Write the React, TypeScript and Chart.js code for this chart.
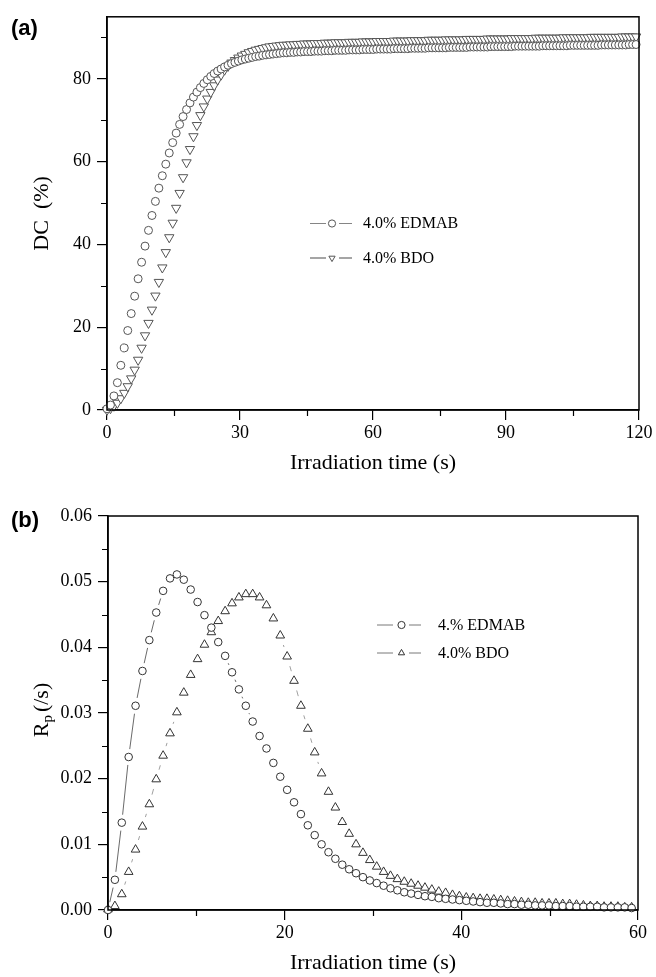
import React, { useEffect, useRef } from "react";
import { Chart, registerables } from "chart.js";

Chart.register(...registerables);

// ---------- data ----------
const TIME_STEP_S = 0.78;

// (a) degree of conversion DC (%)
const DC_EDMAB = [
  0.3, 1.2, 3.4, 6.6, 10.8, 15.0, 19.2, 23.3, 27.5, 31.7,
  35.7, 39.6, 43.4, 47.0, 50.4, 53.6, 56.6, 59.4, 62.1, 64.6,
  66.9, 69.0, 70.9, 72.6, 74.2, 75.6, 76.8, 77.9, 78.9, 79.8,
  80.6, 81.3, 81.9, 82.4, 82.9, 83.3, 83.7, 84.0, 84.3, 84.6,
  84.8, 85.0, 85.2, 85.4, 85.5, 85.7, 85.8, 85.9, 86.0, 86.1, 86.2,
  86.3, 86.3, 86.4, 86.4, 86.5, 86.5, 86.6, 86.6, 86.6, 86.7,
  86.7, 86.7, 86.8, 86.8, 86.8, 86.9, 86.9, 86.9, 86.9, 87.0,
  87.0, 87.0, 87.0, 87.1, 87.1, 87.1, 87.1, 87.2, 87.2, 87.2,
  87.2, 87.2, 87.3, 87.3, 87.3, 87.3, 87.3, 87.4, 87.4, 87.4,
  87.4, 87.4, 87.5, 87.5, 87.5, 87.5, 87.5, 87.5, 87.6, 87.6,
  87.6, 87.6, 87.6, 87.6, 87.7, 87.7, 87.7, 87.7, 87.7, 87.7,
  87.8, 87.8, 87.8, 87.8, 87.8, 87.8, 87.8, 87.9, 87.9, 87.9,
  87.9, 87.9, 87.9, 87.9, 87.9, 88.0, 88.0, 88.0, 88.0, 88.0,
  88.0, 88.0, 88.0, 88.1, 88.1, 88.1, 88.1, 88.1, 88.1, 88.1,
  88.1, 88.1, 88.2, 88.2, 88.2, 88.2, 88.2, 88.2, 88.2, 88.2,
  88.3, 88.3, 88.3,
];

const DC_BDO = [
  0.0, 0.4, 1.0, 1.7, 2.8, 4.1, 5.7, 7.6, 9.7, 12.1,
  15.0, 18.0, 21.0, 24.2, 27.6, 30.9, 34.4, 38.1, 41.7, 45.2,
  48.8, 52.4, 56.2, 59.8, 63.0, 66.1, 68.8, 71.2, 73.3, 75.2,
  76.8, 78.4, 79.8, 81.0, 82.2, 83.1, 83.9, 84.5, 85.1, 85.6,
  86.0, 86.4, 86.7, 87.0, 87.2, 87.4, 87.6, 87.8, 87.9, 88.0, 88.1,
  88.2, 88.2, 88.3, 88.3, 88.4, 88.4, 88.5, 88.5, 88.5, 88.6,
  88.6, 88.6, 88.7, 88.7, 88.7, 88.8, 88.8, 88.8, 88.8, 88.9,
  88.9, 88.9, 88.9, 89.0, 89.0, 89.0, 89.0, 89.1, 89.1, 89.1,
  89.1, 89.1, 89.2, 89.2, 89.2, 89.2, 89.2, 89.3, 89.3, 89.3,
  89.3, 89.3, 89.4, 89.4, 89.4, 89.4, 89.4, 89.5, 89.5, 89.5,
  89.5, 89.5, 89.5, 89.6, 89.6, 89.6, 89.6, 89.6, 89.6, 89.7,
  89.7, 89.7, 89.7, 89.7, 89.7, 89.7, 89.8, 89.8, 89.8, 89.8,
  89.8, 89.8, 89.8, 89.9, 89.9, 89.9, 89.9, 89.9, 89.9, 89.9,
  89.9, 90.0, 90.0, 90.0, 90.0, 90.0, 90.0, 90.0, 90.0, 90.1,
  90.1, 90.1, 90.1, 90.1, 90.1, 90.1, 90.1, 90.1, 90.2, 90.2,
  90.2, 90.2, 90.2,
];

// (b) polymerization rate Rp (/s)
const RP_EDMAB = [
  0.0000, 0.0046, 0.0133, 0.0233, 0.0311, 0.0364, 0.0411, 0.0453, 0.0486, 0.0505,
  0.0511, 0.0503, 0.0488, 0.0469, 0.0449, 0.0430, 0.0408, 0.0387, 0.0362, 0.0336,
  0.0311, 0.0287, 0.0265, 0.0246, 0.0224, 0.0203, 0.0183, 0.0164, 0.0146, 0.0129,
  0.0114, 0.0100, 0.0088, 0.0078, 0.0069, 0.0062, 0.0056, 0.0050, 0.0045, 0.0041,
  0.0037, 0.0033, 0.0030, 0.0027, 0.0025, 0.0023, 0.0021, 0.0020, 0.0018, 0.0017,
  0.0016, 0.0015, 0.0014, 0.0013, 0.0012, 0.0011, 0.0011, 0.0010, 0.0009, 0.0009,
  0.0008, 0.0008, 0.0007, 0.0007, 0.0007, 0.0006, 0.0006, 0.0006, 0.0005, 0.0005,
  0.0005, 0.0005, 0.0004, 0.0004, 0.0004, 0.0004, 0.0003,
];

const RP_BDO = [
  0.0001, 0.0006, 0.0024, 0.0058, 0.0092, 0.0127, 0.0161, 0.0199, 0.0235, 0.0269,
  0.0301, 0.0331, 0.0358, 0.0382, 0.0404, 0.0423, 0.0440, 0.0455, 0.0467, 0.0476,
  0.0481, 0.0481, 0.0476, 0.0464, 0.0444, 0.0418, 0.0386, 0.0349, 0.0311, 0.0276,
  0.0240, 0.0208, 0.0180, 0.0156, 0.0134, 0.0116, 0.0100, 0.0087, 0.0076, 0.0066,
  0.0058, 0.0052, 0.0047, 0.0043, 0.0040, 0.0037, 0.0034, 0.0031, 0.0028, 0.0026,
  0.0023, 0.0021, 0.0019, 0.0018, 0.0017, 0.0017, 0.0016, 0.0015, 0.0014, 0.0013,
  0.0012, 0.0011, 0.0011, 0.0010, 0.0010, 0.0010, 0.0009, 0.0009, 0.0008, 0.0007,
  0.0006, 0.0006, 0.0005, 0.0005, 0.0005, 0.0004, 0.0004,
];

// ticks
const DC_X_TICKS = [0, 30, 60, 90, 120];
const DC_X_MINOR = [15, 45, 75, 105];
const DC_Y_TICKS = [0, 20, 40, 60, 80];
const DC_Y_MINOR = [10, 30, 50, 70, 90];
const RP_X_TICKS = [0, 20, 40, 60];
const RP_X_MINOR = [10, 30, 50];
const RP_Y_TICKS = [0, 0.01, 0.02, 0.03, 0.04, 0.05, 0.06];
const RP_Y_MINOR = [0.005, 0.015, 0.025, 0.035, 0.045, 0.055];

const LEGEND_A = ["4.0% EDMAB", "4.0% BDO"];
const LEGEND_B = ["4.% EDMAB", "4.0% BDO"];

// ---------- styling ----------
const SERIF = '"Liberation Serif", "Times New Roman", serif';
const SANS = '"Liberation Sans", Arial, sans-serif';

const toPoints = (values: number[]) =>
  values.map((y, i) => ({ x: Math.round(i * TIME_STEP_S * 100) / 100, y }));

type Marker = "circle" | "triDown" | "triUp";

function drawMarker(ctx: CanvasRenderingContext2D, m: Marker, x: number, y: number, r: number, color: string) {
  ctx.save();
  ctx.beginPath();
  if (m === "circle") {
    ctx.arc(x, y, r, 0, Math.PI * 2);
  } else {
    const s = m === "triUp" ? 1 : -1;
    const h = r * 1.5;
    const w = r * Math.sqrt(3);
    ctx.moveTo(x, y - s * r);
    ctx.lineTo(x + w / 2, y - s * r + s * h);
    ctx.lineTo(x - w / 2, y - s * r + s * h);
    ctx.closePath();
  }
  ctx.fillStyle = "#fff";
  ctx.fill();
  ctx.strokeStyle = color;
  ctx.lineWidth = 1;
  ctx.stroke();
  ctx.restore();
}

// connecting line with a gap around each symbol (Origin "line + symbol" look)
const gapLinePlugin = {
  id: "gapLine",
  beforeDatasetsDraw(chart: any) {
    const ctx: CanvasRenderingContext2D = chart.ctx;
    chart.data.datasets.forEach((ds: any, i: number) => {
      const g = ds.gapLine;
      if (!g) return;
      const pts = chart.getDatasetMeta(i).data;
      ctx.save();
      ctx.strokeStyle = g.color;
      ctx.lineWidth = g.width;
      ctx.beginPath();
      for (let k = 1; k < pts.length; k++) {
        const a = pts[k - 1];
        const b = pts[k];
        const dx = b.x - a.x;
        const dy = b.y - a.y;
        const len = Math.hypot(dx, dy);
        if (len <= 2 * g.gap + 1) continue;
        const ux = dx / len;
        const uy = dy / len;
        ctx.moveTo(a.x + ux * g.gap, a.y + uy * g.gap);
        ctx.lineTo(b.x - ux * g.gap, b.y - uy * g.gap);
      }
      ctx.stroke();
      ctx.restore();
    });
  },
};

interface LegendRow {
  y: number;
  marker: Marker;
  text: string;
  lineWidth: number;
  lineColor: string;
}

interface DecorCfg {
  panel: string;
  panelY: number;
  xMinor: number[];
  yMinor: number[];
  yTitle: (ctx: CanvasRenderingContext2D, cx: number, cy: number) => void;
  yTitleX: number;
  legend: LegendRow[];
  leg: { a1: number; a2: number; mk: number; b1: number; b2: number; tx: number; r: number; font: number; color: string };
}

function decorPlugin(cfg: DecorCfg) {
  return {
    id: "decor",
    afterDraw(chart: any) {
      const ctx: CanvasRenderingContext2D = chart.ctx;
      const { left, right, top, bottom } = chart.chartArea;
      const xs = chart.scales.x;
      const ys = chart.scales.y;
      ctx.save();
      // frame
      ctx.strokeStyle = "#000";
      ctx.lineWidth = 1.5;
      ctx.strokeRect(left, top, right - left, bottom - top);
      // minor ticks
      ctx.lineWidth = 1.2;
      ctx.beginPath();
      cfg.xMinor.forEach((v) => {
        const px = Math.round(xs.getPixelForValue(v)) + 0.5;
        ctx.moveTo(px, bottom);
        ctx.lineTo(px, bottom + 6);
      });
      cfg.yMinor.forEach((v) => {
        const py = Math.round(ys.getPixelForValue(v)) + 0.5;
        ctx.moveTo(left, py);
        ctx.lineTo(left - 6, py);
      });
      ctx.stroke();
      // panel label
      ctx.fillStyle = "#000";
      ctx.font = `bold 22px ${SANS}`;
      ctx.textAlign = "left";
      ctx.textBaseline = "middle";
      ctx.fillText(cfg.panel, 11, cfg.panelY);
      // y title
      cfg.yTitle(ctx, cfg.yTitleX, (top + bottom) / 2);
      // legend
      const L = cfg.leg;
      cfg.legend.forEach((row) => {
        ctx.strokeStyle = row.lineColor;
        ctx.lineWidth = row.lineWidth;
        ctx.beginPath();
        ctx.moveTo(L.a1, row.y);
        ctx.lineTo(L.a2, row.y);
        ctx.moveTo(L.b1, row.y);
        ctx.lineTo(L.b2, row.y);
        ctx.stroke();
        drawMarker(ctx, row.marker, L.mk, row.y, L.r, L.color);
        ctx.fillStyle = "#000";
        ctx.font = `${L.font}px ${SERIF}`;
        ctx.textAlign = "left";
        ctx.textBaseline = "middle";
        ctx.fillText(row.text, L.tx, row.y + 0.5);
      });
      ctx.restore();
    },
  };
}

function axisCommon(ticks: number[], min: number, max: number, fmt: (v: number) => string, pad: number) {
  return {
    type: "linear" as const,
    min,
    max,
    afterBuildTicks: (s: any) => {
      s.ticks = ticks.map((value) => ({ value }));
    },
    grid: {
      display: true,
      drawOnChartArea: false,
      drawTicks: true,
      tickLength: 10,
      color: "#000",
      lineWidth: 1.2,
    },
    border: { display: true, color: "#000", width: 1.5 },
    ticks: {
      color: "#000",
      font: { family: SERIF, size: 18 },
      padding: pad,
      maxRotation: 0,
      autoSkip: false,
      callback: (v: any) => fmt(Number(v)),
    },
  };
}

function PanelA() {
  const ref = useRef<HTMLCanvasElement | null>(null);
  useEffect(() => {
    if (!ref.current) return;
    const chart = new Chart(ref.current, {
      type: "scatter",
      data: {
        datasets: [
          {
            label: LEGEND_A[0],
            data: toPoints(DC_EDMAB),
            showLine: false,
            gapLine: { color: "#777", width: 0.8, gap: 10 },
            pointStyle: "circle",
            pointRadius: 4,
            pointBorderWidth: 1,
            pointBorderColor: "#555",
            pointBackgroundColor: "#fff",
            clip: false,
          } as any,
          {
            label: LEGEND_A[1],
            data: toPoints(DC_BDO),
            showLine: false,
            gapLine: { color: "#888", width: 0.8, gap: 11 },
            pointStyle: "triangle",
            pointRotation: 180,
            pointRadius: 5.4,
            pointBorderWidth: 1,
            pointBorderColor: "#555",
            pointBackgroundColor: "#fff",
            clip: false,
          } as any,
        ],
      },
      options: {
        animation: false,
        responsive: false,
        maintainAspectRatio: false,
        events: [],
        layout: { padding: { left: 0, right: 17, top: 14, bottom: 0 } },
        plugins: { legend: { display: false }, tooltip: { enabled: false } },
        scales: {
          x: {
            ...axisCommon(DC_X_TICKS, 0, 120, (v) => String(v), 2),
            afterFit: (s: any) => {
              s.height = 78;
            },
            title: {
              display: true,
              text: "Irradiation time (s)",
              color: "#000",
              font: { family: SERIF, size: 22 },
              padding: { top: 0, bottom: 12 },
            },
          } as any,
          y: {
            ...axisCommon(DC_Y_TICKS, 0, 95, (v) => String(v), 6),
            afterFit: (s: any) => {
              s.width = 107;
            },
          } as any,
        },
      },
      plugins: [
        gapLinePlugin as any,
        decorPlugin({
          panel: "(a)",
          panelY: 29,
          xMinor: DC_X_MINOR,
          yMinor: DC_Y_MINOR,
          yTitleX: 42,
          yTitle: (ctx, cx, cy) => {
            ctx.save();
            ctx.translate(cx, cy);
            ctx.rotate(-Math.PI / 2);
            ctx.fillStyle = "#000";
            ctx.font = `22px ${SERIF}`;
            ctx.textAlign = "center";
            ctx.textBaseline = "middle";
            ctx.fillText("DC  (%)", 0, 0);
            ctx.restore();
          },
          legend: [
            { y: 223.5, marker: "circle", text: LEGEND_A[0], lineWidth: 0.8, lineColor: "#666" },
            { y: 258, marker: "triDown", text: LEGEND_A[1], lineWidth: 1.4, lineColor: "#888" },
          ],
          leg: { a1: 310, a2: 326, mk: 332, b1: 339, b2: 352, tx: 363, r: 3.6, font: 16, color: "#555" },
        }) as any,
      ],
    });
    return () => chart.destroy();
  }, []);
  return <canvas ref={ref} width={656} height={488} style={{ display: "block", width: 656, height: 488 }} />;
}

function PanelB() {
  const ref = useRef<HTMLCanvasElement | null>(null);
  useEffect(() => {
    if (!ref.current) return;
    const chart = new Chart(ref.current, {
      type: "scatter",
      data: {
        datasets: [
          {
            label: LEGEND_B[0],
            data: toPoints(RP_EDMAB),
            showLine: false,
            gapLine: { color: "#444", width: 0.8, gap: 8 },
            pointStyle: "circle",
            pointRadius: 3.8,
            pointBorderWidth: 1,
            pointBorderColor: "#333",
            pointBackgroundColor: "#fff",
            clip: false,
          } as any,
          {
            label: LEGEND_B[1],
            data: toPoints(RP_BDO),
            showLine: false,
            gapLine: { color: "#777", width: 0.7, gap: 10 },
            pointStyle: "triangle",
            pointRadius: 5,
            pointBorderWidth: 1,
            pointBorderColor: "#333",
            pointBackgroundColor: "#fff",
            clip: false,
          } as any,
        ],
      },
      options: {
        animation: false,
        responsive: false,
        maintainAspectRatio: false,
        events: [],
        layout: { padding: { left: 0, right: 18, top: 28, bottom: 0 } },
        plugins: { legend: { display: false }, tooltip: { enabled: false } },
        scales: {
          x: {
            ...axisCommon(RP_X_TICKS, 0, 60, (v) => String(v), 2),
            afterFit: (s: any) => {
              s.height = 67;
            },
            title: {
              display: true,
              text: "Irradiation time (s)",
              color: "#000",
              font: { family: SERIF, size: 22 },
              padding: { top: 0, bottom: 1 },
            },
          } as any,
          y: {
            ...axisCommon(RP_Y_TICKS, 0, 0.06, (v) => v.toFixed(2), 6),
            afterFit: (s: any) => {
              s.width = 108;
            },
          } as any,
        },
      },
      plugins: [
        gapLinePlugin as any,
        decorPlugin({
          panel: "(b)",
          panelY: 32.5,
          xMinor: RP_X_MINOR,
          yMinor: RP_Y_MINOR,
          yTitleX: 42,
          yTitle: (ctx, cx, cy) => {
            ctx.save();
            ctx.translate(cx, cy - 3);
            ctx.rotate(-Math.PI / 2);
            ctx.fillStyle = "#000";
            ctx.textAlign = "left";
            ctx.textBaseline = "middle";
            const big = `22px ${SERIF}`;
            const small = `15px ${SERIF}`;
            ctx.font = big;
            const wR = ctx.measureText("R").width;
            const wRest = ctx.measureText("(/s)").width;
            ctx.font = small;
            const wp = ctx.measureText("p").width;
            const gap = 3;
            const total = wR + wp + gap + wRest;
            let x = -total / 2;
            ctx.font = big;
            ctx.fillText("R", x, 0);
            x += wR;
            ctx.font = small;
            ctx.fillText("p", x, 6);
            x += wp + gap;
            ctx.font = big;
            ctx.fillText("(/s)", x, 0);
            ctx.restore();
          },
          legend: [
            { y: 137, marker: "circle", text: LEGEND_B[0], lineWidth: 0.8, lineColor: "#555" },
            { y: 165, marker: "triUp", text: LEGEND_B[1], lineWidth: 0.8, lineColor: "#555" },
          ],
          leg: { a1: 377, a2: 393, mk: 401.5, b1: 409, b2: 421, tx: 438, r: 3.6, font: 16, color: "#333" },
        }) as any,
      ],
    });
    return () => chart.destroy();
  }, []);
  return <canvas ref={ref} width={656} height={489} style={{ display: "block", width: 656, height: 489 }} />;
}

export default function App() {
  return (
    <div
      style={{
        position: "fixed",
        left: 0,
        top: 0,
        width: 656,
        height: 977,
        background: "#fff",
        overflow: "hidden",
      }}
    >
      <PanelA />
      <PanelB />
    </div>
  );
}
